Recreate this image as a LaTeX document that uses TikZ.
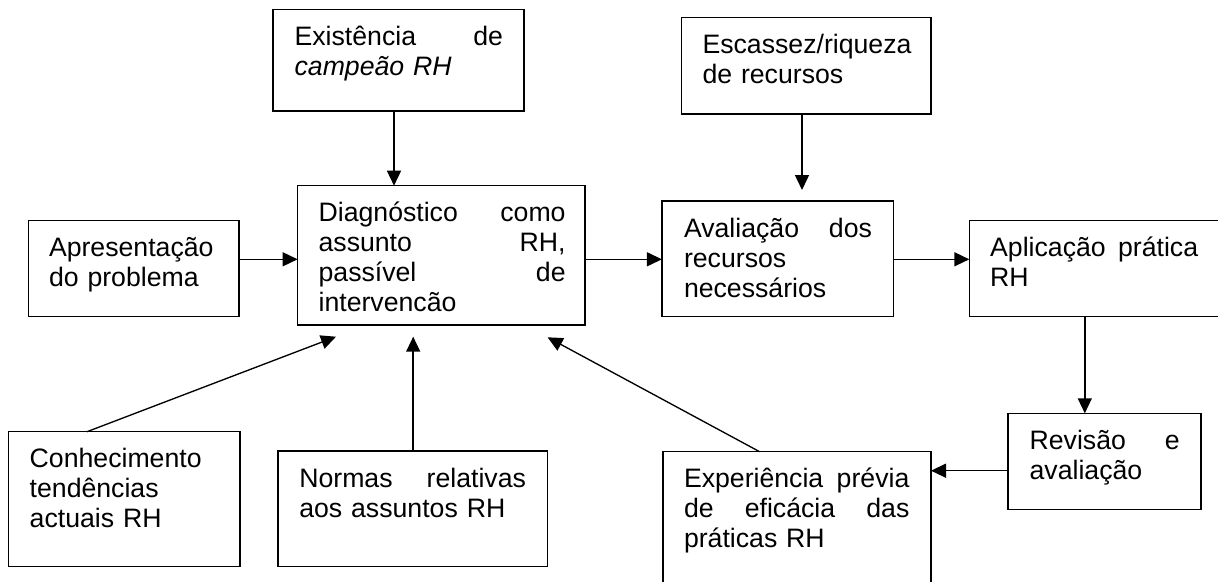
\documentclass[tikz,border=0pt]{standalone}
\usepackage{fontspec}
\setmainfont{Liberation Sans}
\usetikzlibrary{arrows.meta,calc}
\begin{document}
\begin{tikzpicture}[x=0.75pt,y=-0.75pt,
  box/.style={draw, line width=1.1pt, inner sep=0pt, outer sep=0pt, anchor=north west},
  txt/.style={inner sep=0pt, outer sep=0pt, anchor=north west, align=left,
    font=\fontsize{20pt}{22.5pt}\selectfont},
  arr/.style={line width=1.1pt, -{Triangle[length=11.25pt,width=10.5pt]}},
  lnk/.style={line width=1pt, -{Triangle[length=11.25pt,width=10.5pt]}}]
\useasboundingbox (0,0) rectangle (1218,582);
\fill[white] (0,0) rectangle (1218,582);
\newcommand\fst{\rule{0pt}{27pt}}
% boxes
\node[box, minimum width=188.325pt, minimum height=76.275pt] (exist) at (272.8,9.3) {};
\node[box, minimum width=187.05pt, minimum height=72.225pt] (escassez) at (681.6,17.7) {};
\node[box, minimum width=157.725pt, minimum height=72pt] (apres) at (28.7,220.7) {};
\node[box, minimum width=215.55pt, minimum height=104.475pt] (diag) at (297.6,185.7) {};
\node[box, minimum width=173.85pt, minimum height=86.775pt] (aval) at (661.9,201) {};
\node[box, minimum width=203.025pt, minimum height=72pt] (apli) at (969.3,220.7) {};
\node[box, minimum width=144.75pt, minimum height=72pt] (rev) at (1008,413.3) {};
\node[box, minimum width=201pt, minimum height=111.225pt] (exp) at (663,451.7) {};
\node[box, minimum width=173.475pt, minimum height=101.25pt] (conh) at (8.7,431.7) {};
\node[box, minimum width=202.2pt, minimum height=86.775pt] (normas) at (278,451) {};
% texts
\node[txt, text width=156.375pt] (t-exist) at (294.6,9.3) {\fst Existência\hfill de\\\textit{campeão RH}};
\node[txt, text width=157.5pt] (t-escassez) at (702.5,17.7) {\fst Escassez/riqueza\\de recursos};
\node[txt, text width=138.75pt] (t-apres) at (49,220.7) {\fst Apresentação\\do problema};
\node[txt, text width=185.25pt] (t-diag) at (318.6,185.7) {\fst Diagnóstico\hfill como\\assunto\hfill RH,\\passível\hfill de\\intervencão};
\node[txt, text width=141pt] (t-aval) at (684,201) {\fst Avaliação\hfill dos\\recursos\\necessários};
\node[txt, text width=156pt] (t-apli) at (990.2,220.7) {\fst Aplicação\hfill prática\\RH};
\node[txt, text width=112.5pt] (t-rev) at (1029.6,413.3) {\fst Revisão\hfill e\\avaliação};
\node[txt, text width=169.05pt] (t-exp) at (684,451.7) {\fst Experiência\hfill prévia\\de\hfill eficácia\hfill das\\práticas RH};
\node[txt, text width=142.5pt] (t-conh) at (29.7,431.7) {\fst Conhecimento\\tendências\\actuais RH};
\node[txt, text width=170.025pt] (t-normas) at (299.3,451) {\fst Normas\hfill relativas\\aos assuntos RH};
% helper coordinates
\coordinate (a1) at (394,0);
\coordinate (a2) at (802,190);
\coordinate (r1) at (0,259.3);
\coordinate (a3) at (1084.8,0);
\coordinate (r2) at (0,470.7);
\coordinate (c1) at (87,0);
\coordinate (t1) at (336,336.7);
\coordinate (t2) at (413.2,336.7);
\coordinate (c3) at (759.6,0);
\coordinate (t3) at (547.6,337.3);
% connectors
\draw[arr] (exist.south -| a1) -- (diag.north -| a1);
\draw[arr] (escassez.south -| a2) -- (a2);
\draw[arr] (apres.east |- r1) -- (diag.west |- r1);
\draw[arr] (diag.east |- r1) -- (aval.west |- r1);
\draw[arr] (aval.east |- r1) -- (apli.west |- r1);
\draw[arr] (apli.south -| a3) -- (rev.north -| a3);
\draw[arr] (rev.west |- r2) -- (exp.east |- r2);
\draw[lnk] (conh.north -| c1) -- (t1);
\draw[arr] (normas.north -| t2) -- (t2);
\draw[lnk] (exp.north -| c3) -- (t3);
\end{tikzpicture}
\end{document}
